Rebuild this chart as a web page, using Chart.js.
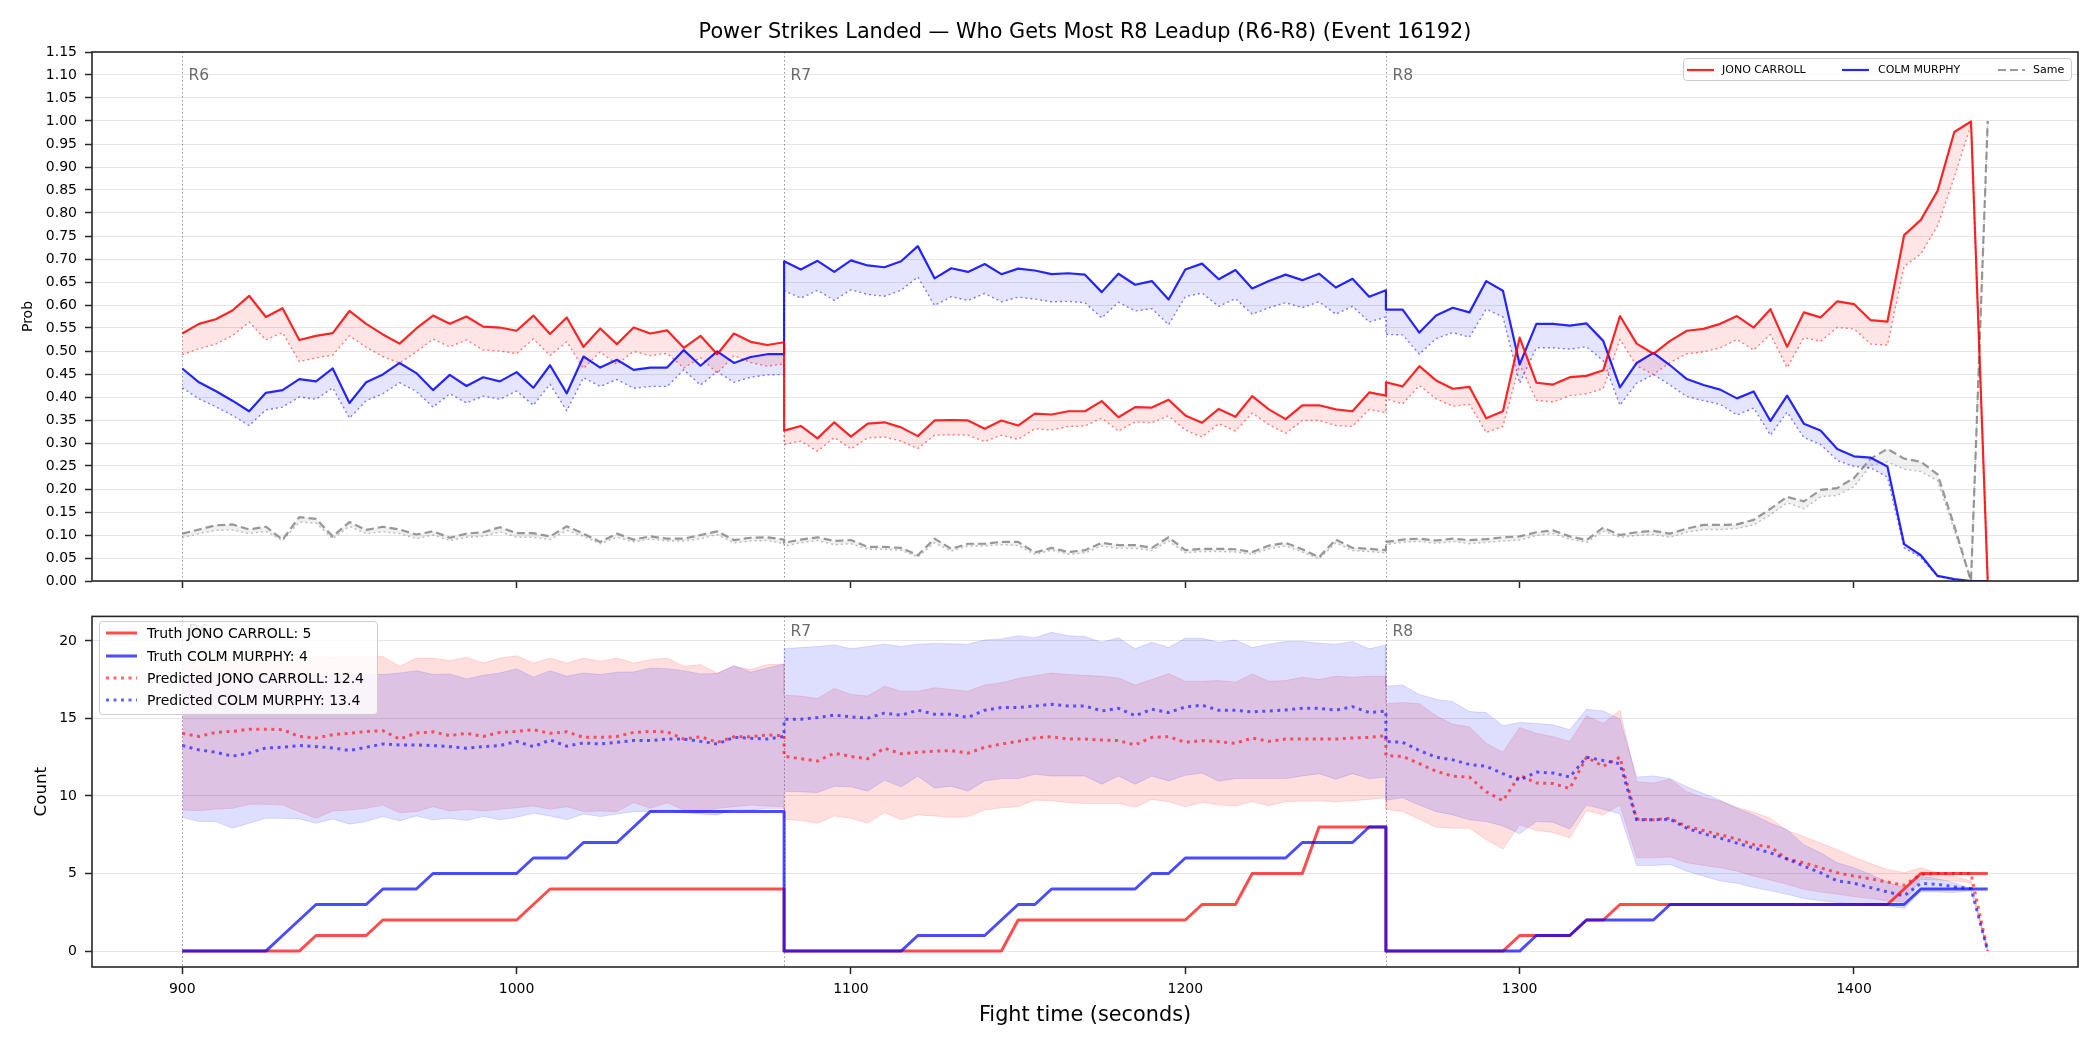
<!DOCTYPE html>
<html>
<head>
<meta charset="utf-8">
<title>Power Strikes Landed</title>
<script src="https://cdn.jsdelivr.net/npm/chart.js@4.4.1/dist/chart.umd.min.js"></script>
<style>
  body { margin: 0; background: #fff; font-family: 'DejaVu Sans', sans-serif; color: #000; }
  #page { position: relative; width: 2100px; height: 1050px; overflow: hidden; }
  #topBox { position: absolute; left: 0; top: 0; width: 2100px; height: 600px; }
  #botBox { position: absolute; left: 0; top: 600px; width: 2100px; height: 450px; }
  #title { position: absolute; left: 92px; width: 1986px; top: 18px; text-align: center; font-size: 20.8px; line-height: 26px; }
  .legend { position: absolute; background: rgba(255,255,255,0.8); border: 1px solid #cccccc; border-radius: 4px; box-sizing: border-box; }
  .legend span { position: absolute; white-space: nowrap; }
  .legend svg { position: absolute; }
  #legTop { left: 1683px; top: 58px; width: 389px; height: 23px; font-size: 11px; }
  #legTop span { top: 0; line-height: 21px; }
  #legTop svg { top: 9px; }
  #legBot { left: 99px; top: 621px; width: 279px; height: 94px; font-size: 14px; }
  #legBot span { line-height: 18px; }
</style>
</head>
<body>
<div id="page">
  <div id="topBox"><canvas id="probChart" width="2100" height="600"></canvas></div>
  <div id="botBox"><canvas id="countChart" width="2100" height="450"></canvas></div>
  <div id="title">Power Strikes Landed — Who Gets Most R8 Leadup (R6-R8) (Event 16192)</div>

  <div class="legend" id="legTop">
    <svg style="left:3px" width="27" height="4"><line x1="0" y1="2" x2="27" y2="2" stroke="rgba(255,0,0,0.85)" stroke-width="2.2"/></svg>
    <span style="left:38px">JONO CARROLL</span>
    <svg style="left:158px" width="27" height="4"><line x1="0" y1="2" x2="27" y2="2" stroke="rgba(0,0,255,0.85)" stroke-width="2.2"/></svg>
    <span style="left:194px">COLM MURPHY</span>
    <svg style="left:314px" width="27" height="4"><line x1="0" y1="2" x2="27" y2="2" stroke="rgba(128,128,128,0.8)" stroke-width="2.2" stroke-dasharray="8 4"/></svg>
    <span style="left:349px">Same</span>
  </div>

  <div class="legend" id="legBot">
    <svg style="left:6px;top:9px" width="31" height="4"><line x1="0" y1="2" x2="31" y2="2" stroke="rgba(255,0,0,0.7)" stroke-width="3"/></svg>
    <span style="left:47px;top:2px">Truth JONO CARROLL: 5</span>
    <svg style="left:6px;top:32px" width="31" height="4"><line x1="0" y1="2" x2="31" y2="2" stroke="rgba(0,0,255,0.7)" stroke-width="3"/></svg>
    <span style="left:47px;top:25px">Truth COLM MURPHY: 4</span>
    <svg style="left:6px;top:54px" width="31" height="4"><line x1="0" y1="2" x2="31" y2="2" stroke="rgba(255,0,0,0.6)" stroke-width="3" stroke-dasharray="3 4.5"/></svg>
    <span style="left:47px;top:47px">Predicted JONO CARROLL: 12.4</span>
    <svg style="left:6px;top:76px" width="31" height="4"><line x1="0" y1="2" x2="31" y2="2" stroke="rgba(0,0,255,0.6)" stroke-width="3" stroke-dasharray="3 4.5"/></svg>
    <span style="left:47px;top:69px">Predicted COLM MURPHY: 13.4</span>
  </div>
</div>

<script>
// rounds shown, each sampled every 5 s for 180 s
var roundStarts = [900, 1080, 1260];
var roundNames = ['R6', 'R7', 'R8'];

var xTicks = [900, 1000, 1100, 1200, 1300, 1400];
var probTicks = [0, 0.05, 0.1, 0.15, 0.2, 0.25, 0.3, 0.35, 0.4, 0.45, 0.5, 0.55, 0.6, 0.65, 0.7, 0.75, 0.8, 0.85, 0.9, 0.95, 1, 1.05, 1.1, 1.15];
var countTicks = [0, 5, 10, 15, 20];

// top panel: probabilities (solid) and the lower dotted estimate
var probJono = [
  0.538,0.559,0.569,0.588,0.620,0.574,0.593,0.524,0.533,0.539,0.587,0.559,0.536,0.516,0.549,0.577,0.559,0.575,0.553,0.551,0.544,0.577,0.537,0.573,0.509,0.549,0.515,0.551,0.538,0.545,0.507,0.533,0.493,0.538,0.520,0.513,0.519,
  0.327,0.337,0.310,0.345,0.314,0.342,0.345,0.334,0.315,0.349,0.350,0.349,0.331,0.349,0.338,0.364,0.362,0.369,0.369,0.391,0.356,0.378,0.377,0.394,0.360,0.344,0.374,0.357,0.402,0.373,0.352,0.382,0.382,0.373,0.369,0.410,0.403,
  0.432,0.423,0.467,0.436,0.418,0.422,0.354,0.369,0.529,0.431,0.427,0.443,0.446,0.458,0.576,0.516,0.494,0.522,0.544,0.548,0.559,0.576,0.551,0.591,0.509,0.584,0.573,0.608,0.602,0.567,0.564,0.752,0.785,0.848,0.976,0.999,0.000
];
var probJonoAlt = [
  0.492,0.505,0.515,0.533,0.563,0.524,0.540,0.477,0.485,0.491,0.533,0.508,0.488,0.474,0.498,0.526,0.509,0.524,0.502,0.500,0.494,0.526,0.490,0.520,0.462,0.498,0.471,0.499,0.490,0.495,0.463,0.486,0.452,0.490,0.475,0.467,0.472,
  0.297,0.304,0.282,0.312,0.287,0.311,0.313,0.304,0.288,0.317,0.318,0.317,0.303,0.317,0.308,0.331,0.328,0.336,0.337,0.354,0.326,0.346,0.344,0.359,0.328,0.313,0.342,0.326,0.365,0.340,0.321,0.349,0.349,0.338,0.336,0.373,0.366,
  0.396,0.385,0.425,0.396,0.380,0.384,0.323,0.336,0.471,0.393,0.389,0.403,0.407,0.418,0.525,0.468,0.449,0.475,0.494,0.498,0.507,0.525,0.502,0.536,0.464,0.529,0.521,0.551,0.548,0.515,0.513,0.684,0.711,0.772,0.878,0.992,0.000
];
var probColm = [
  0.462,0.432,0.413,0.392,0.369,0.409,0.415,0.439,0.434,0.462,0.387,0.432,0.449,0.474,0.452,0.415,0.448,0.424,0.443,0.434,0.454,0.420,0.469,0.408,0.488,0.464,0.481,0.459,0.464,0.464,0.502,0.468,0.499,0.474,0.487,0.493,0.493,
  0.695,0.677,0.696,0.672,0.697,0.686,0.682,0.695,0.728,0.658,0.680,0.672,0.689,0.667,0.679,0.675,0.667,0.669,0.666,0.628,0.668,0.644,0.652,0.612,0.677,0.690,0.656,0.676,0.636,0.652,0.666,0.654,0.668,0.638,0.657,0.618,0.632,
  0.590,0.590,0.540,0.577,0.594,0.584,0.652,0.631,0.471,0.559,0.559,0.555,0.560,0.522,0.421,0.474,0.496,0.469,0.439,0.426,0.416,0.397,0.412,0.348,0.403,0.342,0.327,0.287,0.271,0.268,0.249,0.080,0.056,0.011,0.004,0.000,0.000
];
var probColmAlt = [
  0.420,0.396,0.379,0.360,0.338,0.372,0.378,0.400,0.395,0.420,0.354,0.392,0.407,0.431,0.412,0.378,0.407,0.387,0.402,0.395,0.413,0.382,0.428,0.370,0.442,0.423,0.438,0.419,0.423,0.423,0.459,0.426,0.455,0.432,0.443,0.448,0.449,
  0.631,0.615,0.632,0.610,0.633,0.623,0.619,0.632,0.661,0.599,0.618,0.610,0.625,0.607,0.617,0.613,0.607,0.608,0.605,0.572,0.606,0.587,0.592,0.557,0.618,0.626,0.597,0.614,0.580,0.594,0.605,0.594,0.607,0.580,0.597,0.563,0.574,
  0.536,0.535,0.493,0.527,0.540,0.530,0.591,0.574,0.430,0.507,0.507,0.504,0.509,0.479,0.382,0.430,0.449,0.426,0.401,0.392,0.384,0.361,0.376,0.317,0.367,0.312,0.297,0.262,0.249,0.246,0.226,0.072,0.051,0.010,0.003,0.000,0.000
];
var probSame = [
  0.103,0.112,0.121,0.123,0.112,0.118,0.090,0.139,0.135,0.097,0.128,0.111,0.118,0.112,0.101,0.108,0.094,0.103,0.106,0.117,0.104,0.104,0.097,0.119,0.103,0.085,0.103,0.090,0.097,0.092,0.092,0.100,0.108,0.089,0.094,0.095,0.090,
  0.083,0.090,0.095,0.087,0.089,0.074,0.074,0.072,0.056,0.092,0.070,0.081,0.081,0.085,0.085,0.062,0.072,0.063,0.067,0.083,0.078,0.078,0.072,0.095,0.067,0.070,0.070,0.069,0.063,0.077,0.083,0.069,0.052,0.090,0.072,0.070,0.067,
  0.085,0.090,0.092,0.088,0.092,0.089,0.091,0.095,0.097,0.106,0.110,0.097,0.089,0.116,0.100,0.106,0.109,0.103,0.114,0.122,0.122,0.123,0.133,0.157,0.183,0.173,0.198,0.202,0.224,0.266,0.287,0.266,0.259,0.232,0.120,0.000,1.000
];
var probSameAlt = [
  0.094,0.103,0.110,0.111,0.103,0.108,0.088,0.128,0.126,0.092,0.119,0.103,0.107,0.103,0.092,0.100,0.088,0.095,0.097,0.107,0.095,0.095,0.090,0.110,0.097,0.081,0.095,0.085,0.091,0.087,0.087,0.092,0.101,0.083,0.087,0.088,0.081,
  0.076,0.083,0.088,0.079,0.081,0.069,0.069,0.067,0.052,0.083,0.065,0.076,0.076,0.079,0.077,0.058,0.067,0.058,0.061,0.076,0.071,0.071,0.066,0.087,0.061,0.064,0.064,0.063,0.058,0.070,0.076,0.063,0.048,0.083,0.066,0.064,0.061,
  0.079,0.084,0.086,0.082,0.086,0.081,0.084,0.087,0.089,0.099,0.103,0.091,0.084,0.108,0.095,0.099,0.101,0.095,0.106,0.112,0.112,0.114,0.122,0.144,0.170,0.157,0.183,0.186,0.205,0.251,0.259,0.243,0.238,0.218,0.110,0.000,1.000
];

// bottom panel: cumulative counts
var truthJono = [
  0,0,0,0,0,0,0,0,1,1,1,1,2,2,2,2,2,2,2,2,2,3,4,4,4,4,4,4,4,4,4,4,4,4,4,4,4,
  0,0,0,0,0,0,0,0,0,0,0,0,0,0,2,2,2,2,2,2,2,2,2,2,2,3,3,3,5,5,5,5,8,8,8,8,8,
  0,0,0,0,0,0,0,0,1,1,1,1,2,2,3,3,3,3,3,3,3,3,3,3,3,3,3,3,3,3,3,4,5,5,5,5,5
];
var truthColm = [
  0,0,0,0,0,0,1,2,3,3,3,3,4,4,4,5,5,5,5,5,5,6,6,6,7,7,7,8,9,9,9,9,9,9,9,9,9,
  0,0,0,0,0,0,0,0,1,1,1,1,1,2,3,3,4,4,4,4,4,4,5,5,6,6,6,6,6,6,6,7,7,7,7,8,8,
  0,0,0,0,0,0,0,0,0,1,1,1,2,2,2,2,2,3,3,3,3,3,3,3,3,3,3,3,3,3,3,3,4,4,4,4,4
];
var predJono = [
  14.04,13.84,14.10,14.16,14.31,14.31,14.27,13.84,13.74,13.95,14.04,14.16,14.21,13.67,14.06,14.14,13.89,14.04,13.84,14.10,14.16,14.27,14.04,14.14,13.78,13.78,13.84,14.10,14.16,14.14,13.67,13.82,13.46,13.82,13.82,13.93,13.89,
  12.57,12.40,12.25,12.76,12.55,12.40,13.08,12.72,12.82,12.89,12.93,12.76,13.14,13.35,13.52,13.74,13.82,13.67,13.67,13.61,13.57,13.29,13.78,13.82,13.46,13.57,13.50,13.40,13.74,13.52,13.67,13.67,13.67,13.67,13.74,13.78,13.89,
  12.61,12.55,12.08,11.60,11.27,11.22,10.27,9.69,11.33,10.84,10.80,10.48,12.50,11.91,12.50,8.50,8.46,8.56,8.03,7.77,7.50,7.22,6.86,6.71,5.94,5.69,5.37,5.05,4.83,4.66,4.45,4.24,4.94,5.00,5.00,5.00,0
];
var predColm = [
  13.25,12.97,12.82,12.57,12.76,13.10,13.14,13.25,13.18,13.10,12.93,13.14,13.35,13.29,13.29,13.25,13.18,13.08,13.18,13.25,13.52,13.18,13.61,13.21,13.42,13.35,13.46,13.57,13.57,13.67,13.67,13.52,13.35,13.78,13.72,13.67,13.84,
  14.95,14.95,15.06,15.21,15.10,15.02,15.34,15.21,15.53,15.27,15.27,15.06,15.53,15.70,15.70,15.80,15.91,15.80,15.80,15.48,15.65,15.17,15.59,15.38,15.74,15.85,15.53,15.53,15.42,15.48,15.55,15.65,15.65,15.53,15.76,15.38,15.48,
  13.52,13.46,12.93,12.50,12.33,12.03,11.91,11.44,11.01,11.54,11.48,11.22,12.50,12.29,12.08,8.46,8.46,8.50,7.92,7.56,7.28,6.96,6.65,6.33,5.94,5.47,5.05,4.52,4.37,4.09,3.81,3.56,4.37,4.30,4.15,4.03,0
];
var predJonoHi = [
  18.6,18.7,18.8,18.8,18.9,19.0,18.9,18.9,19.0,18.95,19.0,19.0,19.0,18.36,18.89,18.89,18.72,18.94,18.57,18.89,19.04,18.57,18.89,18.57,18.89,18.68,18.89,18.57,18.79,18.89,18.36,18.47,17.93,18.36,18.15,18.47,18.51,
  16.5,16.44,16.29,16.93,16.55,16.44,17.08,16.76,16.76,16.98,16.87,16.76,17.15,17.30,17.57,17.76,17.93,17.83,17.78,17.72,17.61,17.15,17.51,17.89,17.40,17.40,17.44,17.34,17.87,17.40,17.44,17.66,17.51,17.72,17.66,17.72,17.72,
  15.95,16.02,15.95,15.17,14.63,14.46,13.40,12.82,14.42,14.04,13.82,13.52,15.17,14.68,15.53,10.91,10.84,11.08,10.27,9.90,9.67,9.27,8.95,8.56,7.77,7.39,6.96,6.54,6.07,5.64,5.26,5.05,5.37,5.05,4.83,4.52,0
];
var predJonoLo = [
  9.09,9.05,9.16,9.20,9.46,9.46,9.41,8.99,8.56,9.03,9.09,9.20,9.41,8.92,8.99,9.31,9.03,9.14,9.03,9.14,9.24,9.35,9.14,9.31,8.99,9.03,8.99,9.58,9.20,9.56,9.09,8.92,9.20,9.31,9.41,9.35,9.31,
  8.5,8.41,8.24,8.71,8.56,8.24,8.92,8.46,8.78,8.71,8.63,8.67,9.09,9.24,9.31,9.73,9.69,9.56,9.52,9.52,9.52,9.27,9.78,9.63,9.31,9.58,9.41,9.35,9.63,9.37,9.63,9.67,9.69,9.63,9.69,9.78,9.88,
  9.14,8.99,8.50,7.99,7.92,7.92,7.18,6.58,8.14,7.77,7.65,7.29,9.05,8.78,9.41,6.01,6.01,6.07,5.69,5.52,5.37,5.15,4.83,4.58,4.30,3.98,3.81,3.66,3.51,3.39,3.24,3.17,4.62,4.58,4.52,4.41,0
];
var predColmHi = [
  17.7,17.8,17.8,17.9,17.9,17.8,17.9,17.9,17.8,17.8,17.8,17.85,17.83,17.93,18.08,17.83,17.87,17.55,17.78,17.93,18.21,17.66,18.08,17.72,17.93,17.83,17.98,18.00,18.25,18.21,18.08,17.87,17.89,18.42,17.98,18.25,18.51,
  19.5,19.57,19.64,19.74,19.49,19.64,19.79,19.64,19.79,19.83,19.81,19.79,20.06,20.13,20.34,20.21,20.55,20.34,20.28,19.91,20.21,19.49,19.91,19.57,20.17,20.17,19.91,20.06,19.57,19.79,19.96,19.96,19.85,19.79,19.96,19.49,19.74,
  17.08,17.15,16.55,16.23,16.08,15.44,15.38,14.53,14.74,14.68,14.59,14.27,15.59,15.48,14.95,11.22,11.29,11.12,10.59,10.16,9.73,9.20,8.78,8.24,7.82,6.86,6.33,5.69,5.37,4.94,4.45,4.09,4.83,4.66,4.41,4.03,0
];
var predColmLo = [
  8.63,8.35,8.35,7.92,8.24,8.56,8.56,8.52,8.24,8.52,8.18,8.35,8.67,8.39,8.71,8.46,8.56,8.41,8.67,8.46,8.63,8.88,8.71,8.46,8.84,8.67,8.84,8.99,8.99,9.09,8.92,8.84,8.78,9.14,9.09,9.20,9.20,
  10.3,10.27,10.22,10.63,10.59,10.31,11.01,10.59,11.27,10.52,10.63,10.31,10.97,11.12,11.12,11.40,11.29,11.29,11.29,10.76,11.29,10.76,11.29,10.97,11.33,11.48,10.95,11.12,11.12,11.12,11.12,11.29,11.44,11.08,11.44,11.12,11.22,
  9.73,9.88,9.41,8.99,8.78,8.46,8.35,8.07,7.56,8.35,8.31,7.86,9.41,9.14,8.84,5.52,5.52,5.58,5.15,4.83,4.52,4.37,4.09,3.88,3.66,3.39,3.24,3.13,3.02,2.96,2.92,2.75,3.81,3.81,3.77,3.88,0
];

var times = [];
for (var r = 0; r < roundStarts.length; r++) {
  for (var s = 0; s <= 180; s += 5) times.push(roundStarts[r] + s);
}

function pts(vals) {
  return vals.map(function (v, i) { return { x: times[i], y: v }; });
}

function series(label, vals, style) {
  var ds = { label: label, data: pts(vals), pointRadius: 0, tension: 0, fill: false, borderJoinStyle: 'round' };
  for (var k in style) ds[k] = style[k];
  return ds;
}

Chart.defaults.font.family = "'DejaVu Sans', sans-serif";
Chart.defaults.color = '#000';

// black box round the plot area, like matplotlib spines
var framePlugin = {
  id: 'frame',
  afterDraw: function (chart) {
    var a = chart.chartArea, ctx = chart.ctx;
    ctx.save();
    ctx.strokeStyle = '#262626';
    ctx.lineWidth = 1.6;
    ctx.strokeRect(a.left, a.top, a.right - a.left, a.bottom - a.top);
    ctx.restore();
  }
};

// dotted vertical line + label at the start of each round
var roundPlugin = {
  id: 'rounds',
  beforeDatasetsDraw: function (chart) {
    var a = chart.chartArea, ctx = chart.ctx, xs = chart.scales.x;
    ctx.save();
    for (var i = 0; i < roundStarts.length; i++) {
      var px = Math.round(xs.getPixelForValue(roundStarts[i])) + 0.5;
      ctx.strokeStyle = 'rgba(60,60,60,0.55)';
      ctx.lineWidth = 1;
      ctx.setLineDash([1.5, 2.5]);
      ctx.beginPath();
      ctx.moveTo(px, a.top);
      ctx.lineTo(px, a.bottom);
      ctx.stroke();
      ctx.setLineDash([]);
      ctx.fillStyle = 'rgba(70,70,70,0.8)';
      ctx.font = "15.5px 'DejaVu Sans'";
      ctx.textBaseline = 'middle';
      ctx.textAlign = 'left';
      ctx.fillText(roundNames[i], px + 6, a.top + 0.045 * (a.bottom - a.top));
    }
    ctx.restore();
  }
};

function xAxis(height, showLabels) {
  return {
    type: 'linear',
    min: 873,
    max: 1467,
    afterBuildTicks: function (s) { s.ticks = xTicks.map(function (v) { return { value: v }; }); },
    afterFit: function (s) { s.height = height; },
    ticks: { display: showLabels, font: { size: 14 }, padding: 7, color: '#000', maxRotation: 0,
      callback: function (v) { return String(v); } },
    grid: { drawOnChartArea: false, tickColor: '#262626', tickLength: 7, tickWidth: 1.5 },
    border: { display: false },
    title: showLabels ? { display: true, text: 'Fight time (seconds)', font: { size: 20.8 }, padding: { top: 0, bottom: 22 } } : { display: false }
  };
}

function yAxis(min, max, tickList, fmt, titleText, titleSize, titlePad) {
  return {
    type: 'linear',
    min: min,
    max: max,
    afterBuildTicks: function (s) { s.ticks = tickList.map(function (v) { return { value: v }; }); },
    afterFit: function (s) { s.width = 92; },
    ticks: { font: { size: 14 }, padding: 8, color: '#000', callback: fmt },
    grid: { color: '#e6e6e6', lineWidth: 1, tickColor: '#262626', tickLength: 7, tickWidth: 1.5 },
    border: { display: false },
    title: { display: true, text: titleText, font: { size: titleSize }, padding: { top: titlePad, bottom: 0 } }
  };
}

var commonOpts = {
  responsive: false,
  animation: false,
  events: [],
  plugins: { legend: { display: false }, title: { display: false }, tooltip: { enabled: false } }
};

var probSets = [
  series('JONO CARROLL', probJono, { borderColor: 'rgba(255,0,0,0.85)', borderWidth: 2.2, order: 1 }),
  series('COLM MURPHY', probColm, { borderColor: 'rgba(0,0,255,0.85)', borderWidth: 2.2, order: 1 }),
  series('Same', probSame, { borderColor: 'rgba(128,128,128,0.8)', borderWidth: 2.2, borderDash: [8, 4], order: 1 }),
  series('JONO CARROLL (low)', probJonoAlt, { borderColor: 'rgba(255,0,0,0.5)', borderWidth: 1.4, borderDash: [2, 3], fill: 0, backgroundColor: 'rgba(255,0,0,0.1)', order: 2 }),
  series('COLM MURPHY (low)', probColmAlt, { borderColor: 'rgba(0,0,255,0.5)', borderWidth: 1.4, borderDash: [2, 3], fill: 1, backgroundColor: 'rgba(0,0,255,0.1)', order: 2 }),
  series('Same (low)', probSameAlt, { borderColor: 'rgba(128,128,128,0.5)', borderWidth: 1.4, borderDash: [2, 3], fill: 2, backgroundColor: 'rgba(128,128,128,0.12)', order: 2 })
];

new Chart(document.getElementById('probChart'), {
  type: 'line',
  data: { datasets: probSets },
  options: Object.assign({}, commonOpts, {
    layout: { padding: { top: 52, right: 22, bottom: 0, left: 0 } },
    scales: {
      x: xAxis(19, false),
      y: yAxis(0, 1.15, probTicks, function (v) { return v.toFixed(2); }, 'Prob', 14, 19.6)
    }
  }),
  plugins: [roundPlugin, framePlugin]
});

var countSets = [
  series('Truth COLM MURPHY: 4', truthColm, { borderColor: 'rgba(0,0,255,0.7)', borderWidth: 3, order: 1 }),
  series('Truth JONO CARROLL: 5', truthJono, { borderColor: 'rgba(255,0,0,0.7)', borderWidth: 3, order: 2 }),
  series('Predicted COLM MURPHY: 13.4', predColm, { borderColor: 'rgba(0,0,255,0.6)', borderWidth: 3, borderDash: [3, 4.5], order: 3 }),
  series('Predicted JONO CARROLL: 12.4', predJono, { borderColor: 'rgba(255,0,0,0.6)', borderWidth: 3, borderDash: [3, 4.5], order: 4 }),
  series('JONO CARROLL high', predJonoHi, { borderColor: 'rgba(255,0,0,0.12)', borderWidth: 1, order: 6 }),
  series('JONO CARROLL low', predJonoLo, { borderColor: 'rgba(255,0,0,0.12)', borderWidth: 1, fill: 4, backgroundColor: 'rgba(255,0,0,0.13)', order: 6 }),
  series('COLM MURPHY high', predColmHi, { borderColor: 'rgba(0,0,255,0.12)', borderWidth: 1, order: 5 }),
  series('COLM MURPHY low', predColmLo, { borderColor: 'rgba(0,0,255,0.12)', borderWidth: 1, fill: 6, backgroundColor: 'rgba(0,0,255,0.13)', order: 5 })
];

new Chart(document.getElementById('countChart'), {
  type: 'line',
  data: { datasets: countSets },
  options: Object.assign({}, commonOpts, {
    layout: { padding: { top: 15, right: 22, bottom: 0, left: 0 } },
    scales: {
      x: xAxis(83, true),
      y: yAxis(-1.03, 21.58, countTicks, function (v) { return String(v); }, 'Count', 16.7, 31.5)
    }
  }),
  plugins: [roundPlugin, framePlugin]
});
</script>
</body>
</html>
